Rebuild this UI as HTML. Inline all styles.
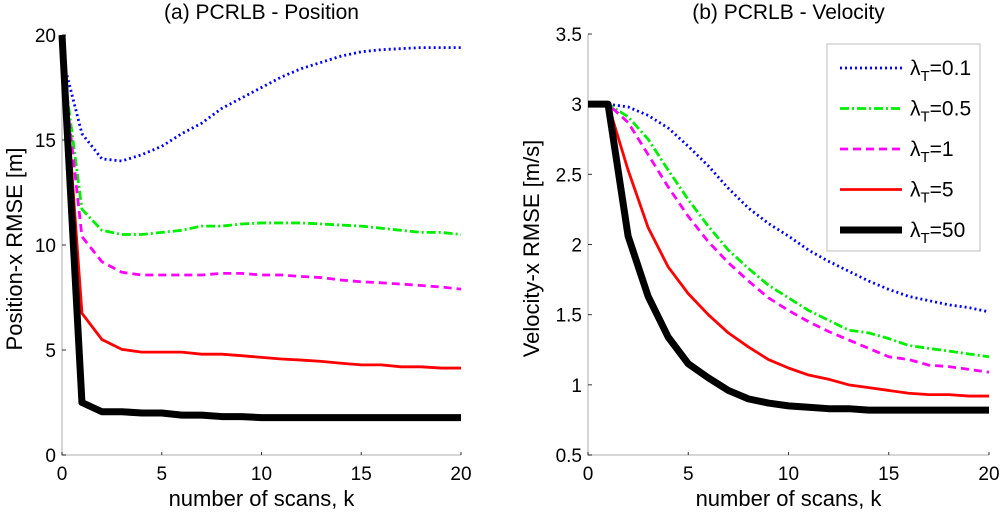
<!DOCTYPE html>
<html><head><meta charset="utf-8"><style>
body{margin:0;background:#fff;}
svg{display:block;font-family:"Liberation Sans",sans-serif;}
</style></head><body>
<svg id="c" width="1000" height="515"></svg>
<script>
const ks=[0,1,2,3,4,5,6,7,8,9,10,11,12,13,14,15,16,17,18,19,20];
const labels=["λT=0.1","λT=0.5","λT=1","λT=5","λT=50"];
const posBlue=[19,15.3,14.1,14.0,14.3,14.7,15.3,15.8,16.5,17.0,17.5,18.0,18.4,18.7,19.0,19.2,19.3,19.35,19.4,19.4,19.4];
const posGreen=[19,11.7,10.7,10.5,10.5,10.6,10.7,10.9,10.9,11.0,11.05,11.05,11.05,11.0,10.95,10.9,10.8,10.7,10.6,10.6,10.5];
const posMag=[19,10.4,9.2,8.7,8.57,8.57,8.57,8.57,8.65,8.65,8.57,8.57,8.5,8.45,8.33,8.25,8.2,8.14,8.07,8.0,7.9];
const posRed=[20,6.75,5.5,5.03,4.9,4.9,4.9,4.8,4.8,4.73,4.65,4.57,4.52,4.46,4.37,4.29,4.29,4.2,4.2,4.14,4.14];
const posBlack=[20,2.5,2.06,2.06,2.0,2.0,1.9,1.9,1.83,1.83,1.78,1.78,1.78,1.78,1.78,1.78,1.78,1.78,1.78,1.78,1.78];
const velBlue=[3.0,3.0,2.98,2.92,2.83,2.70,2.56,2.40,2.26,2.15,2.06,1.96,1.88,1.81,1.74,1.68,1.63,1.60,1.57,1.55,1.52];
const velGreen=[3.0,3.0,2.91,2.75,2.53,2.32,2.13,1.96,1.83,1.71,1.62,1.53,1.46,1.39,1.37,1.33,1.28,1.26,1.24,1.22,1.2];
const velMag=[3.0,3.0,2.87,2.64,2.41,2.2,2.02,1.87,1.74,1.62,1.53,1.45,1.38,1.32,1.26,1.2,1.18,1.14,1.13,1.11,1.09];
const velRed=[3.0,3.0,2.53,2.12,1.84,1.65,1.50,1.37,1.27,1.18,1.12,1.07,1.04,1.0,0.98,0.96,0.94,0.93,0.93,0.92,0.92];
const velBlack=[3.0,3.0,2.06,1.63,1.34,1.15,1.05,0.96,0.9,0.87,0.85,0.84,0.83,0.83,0.82,0.82,0.82,0.82,0.82,0.82,0.82];
const xTicks=[0,5,10,15,20];
const posTicks=[0,5,10,15,20];
const velTicks=[0.5,1,1.5,2,2.5,3,3.5];
const styles=[
 {c:"#0000ff",w:2.8,d:"2,3"},
 {c:"#00ee00",w:2.8,d:"9,3,2,3"},
 {c:"#ff00ff",w:2.8,d:"8,5"},
 {c:"#ff0000",w:2.8,d:""},
 {c:"#000000",w:7,d:""}];
const NS="http://www.w3.org/2000/svg";
const svg=document.getElementById("c");
function mk(t,a,p){const e=document.createElementNS(NS,t);for(const k in a)e.setAttribute(k,a[k]);(p||svg).appendChild(e);return e;}
function panel(o){
 const g=mk("g",{});
 
 
 const X=v=>o.x0+(v-0)/20*(o.x1-o.x0);
 const Y=v=>o.y0-(v-o.ymin)/(o.ymax-o.ymin)*(o.y0-o.y1);
 const ax=mk("path",{d:`M${o.x0},${o.y1}V${o.y0}H${o.x1}`,stroke:"#c8c8c8","stroke-width":1.5,fill:"none"},g);
 
 xTicks.forEach(t=>{mk("line",{x1:X(t),x2:X(t),y1:o.y0,y2:o.y0-3,stroke:"#333"},g);
  const tx=mk("text",{x:X(t),y:o.y0+25,"font-size":19,"text-anchor":"middle"},g);tx.textContent=t;
  });
 o.yt.forEach(t=>{mk("line",{x1:o.x0,x2:o.x0+4,y1:Y(t),y2:Y(t),stroke:"#333"},g);
  const tx=mk("text",{x:o.x0-6,y:Y(t)+7,"font-size":19,"text-anchor":"end"},g);tx.textContent=t;
  });
 const tt=mk("text",{x:(o.x0+o.x1)/2,y:19,"font-size":21,"text-anchor":"middle"},g);tt.textContent=o.title;
 
 const xl=mk("text",{x:(o.x0+o.x1)/2,y:506,"font-size":22,"text-anchor":"middle"},g);xl.textContent="number of scans, k";
 
 const yl=mk("text",{x:0,y:0,"font-size":22,"text-anchor":"middle",transform:`translate(${o.ylx},${(o.y0+o.y1)/2+4}) rotate(-90)`},g);yl.textContent=o.ylab;
 
 o.series.forEach((s,i)=>{const st=styles[i];
  const p=mk("polyline",{points:ks.map((k,j)=>X(k)+","+Y(s[j])).join(" "),fill:"none",stroke:st.c,"stroke-width":st.w,"stroke-dasharray":st.d,"stroke-linejoin":"round"},g);
  });
}
panel({name:"position-panel",x0:62,x1:461,y0:455,y1:35,ymin:0,ymax:20,yt:posTicks,title:"(a) PCRLB - Position",ylab:"Position-x RMSE [m]",ylx:22,series:[posBlue,posGreen,posMag,posRed,posBlack]});
panel({name:"velocity-panel",x0:588,x1:989,y0:455,y1:34,ymin:0.5,ymax:3.5,yt:velTicks,title:"(b) PCRLB - Velocity",ylab:"Velocity-x RMSE [m/s]",ylx:539,series:[velBlue,velGreen,velMag,velRed,velBlack]});
// legend
const lg=mk("g",{});


mk("rect",{x:827,y:44,width:153,height:207,fill:"#fff",stroke:"#c8c8c8","stroke-width":1.2},lg);
labels.forEach((l,i)=>{const y=68+i*40.5,st=styles[i];
 const e=mk("g",{},lg);
 
 
 mk("line",{x1:840,x2:902,y1:y,y2:y,stroke:st.c,"stroke-width":st.w,"stroke-dasharray":st.d},e);
 const t=mk("text",{x:910,y:y+7,"font-size":21},e);
 t.innerHTML="λ<tspan font-size='15' dy='6'>T</tspan><tspan dy='-6'>"+l.slice(2)+"</tspan>";
});
</script>
</body></html>
